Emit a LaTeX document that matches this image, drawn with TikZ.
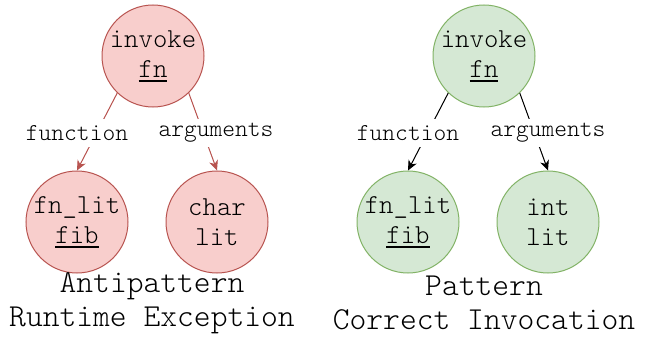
\documentclass[tikz,border=0pt]{standalone}
\usepackage{fontspec}
\setmainfont{Latin Modern Mono Light}
\usetikzlibrary{arrows.meta}

% thick underline placed under the text box
\newcommand\thickul[1]{\vtop{\hbox{#1}\kern2.5pt\hrule height 2.2pt}}

\definecolor{redfill}{HTML}{F8CECC}
\definecolor{redline}{HTML}{B85450}
\definecolor{greenfill}{HTML}{D5E8D4}
\definecolor{greenline}{HTML}{82B366}

\tikzset{
  astnode/.style={circle, draw, line width=1pt, minimum size=102pt, inner sep=0pt,
    align=center, font=\fontsize{27.4}{30}\selectfont},
  badnode/.style={astnode, fill=redfill, draw=redline},
  goodnode/.style={astnode, fill=greenfill, draw=greenline},
  edgelabel/.style={fill=white, inner sep=0pt, minimum height=27pt,
    font=\fontsize{24.3}{26}\selectfont},
  caption/.style={align=center, font=\fontsize{32}{33.5}\selectfont},
  badedge/.style={draw=redline, line width=1pt, -{Stealth[length=10pt,width=9pt,inset=3pt]}, fill=redline},
  goodedge/.style={draw=black, line width=1pt, -{Stealth[length=10pt,width=9pt,inset=3pt]}, fill=black},
}

\begin{document}
\begin{tikzpicture}[x=1pt, y=-1pt]
  \useasboundingbox (0,0) rectangle (646,337);

  % antipattern tree
  \node[badnode] (binv) at (153,56) {invoke\\\thickul{fn}};
  \node[badnode] (bfn)  at (77,222) {fn\_lit\\\thickul{fib}};
  \node[badnode] (bchr) at (217,222) {char\\lit};
  \draw[badedge] (binv.226) -- (bfn.north);
  \draw[badedge] (binv.-46) -- (bchr.north);
  \node[edgelabel] (bfl) at (77,133) {function};
  \node[edgelabel] (bal) at (216,133) {arguments};
  \node[caption] (bcap) at (152,303) {Antipattern\\Runtime Exception};

  % correct tree
  \node[goodnode] (ginv) at (484,56) {invoke\\\thickul{fn}};
  \node[goodnode] (gfn)  at (408,222) {fn\_lit\\\thickul{fib}};
  \node[goodnode] (gint) at (548,222) {int\\lit};
  \draw[goodedge] (ginv.226) -- (gfn.north);
  \draw[goodedge] (ginv.-46) -- (gint.north);
  \node[edgelabel] (gfl) at (408,133) {function};
  \node[edgelabel] (gal) at (548,133) {arguments};
  \node[caption] (gcap) at (484,303) {Pattern\\Correct Invocation};
\end{tikzpicture}
\end{document}
